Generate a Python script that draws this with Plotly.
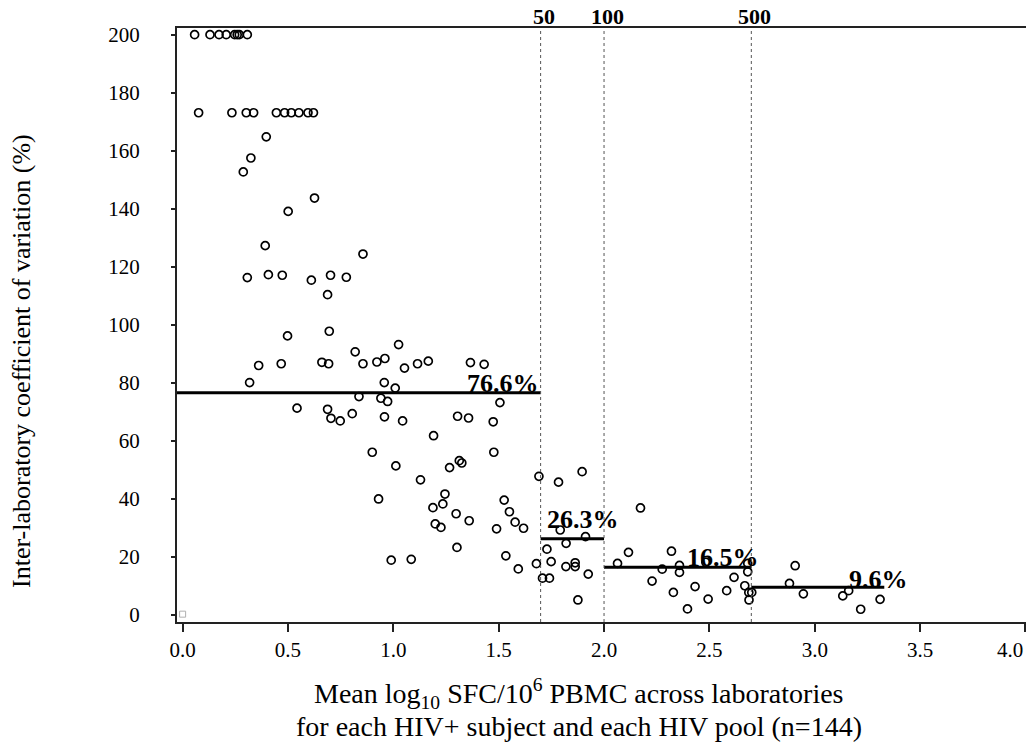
import math
import plotly.graph_objects as go

# ---- data ----
mean_log_sfc = [
    0.057, 0.130, 0.173, 0.207, 0.247, 0.259, 0.269, 0.307,
    0.076, 0.234, 0.302, 0.337, 0.445, 0.484, 0.516, 0.552, 0.595, 0.621,
    0.397, 0.324, 0.288, 0.626,
    0.501, 0.392, 0.856, 0.307, 0.407, 0.473, 0.611, 0.702, 0.777, 0.688,
    0.498, 0.696, 0.819, 0.361, 0.468, 0.661, 0.693, 0.856, 0.922, 0.960, 0.318,
    0.957, 0.837, 0.941, 0.973, 0.543, 0.688, 0.704, 0.748, 0.805, 0.958, 0.900, 0.930,
    1.025, 1.053, 1.115, 1.166, 1.366, 1.431, 1.009, 1.506, 1.044, 1.305, 1.357, 1.474,
    1.191, 1.477, 1.012, 1.267, 1.313, 1.325, 1.129, 1.691, 1.784, 1.896, 1.245, 1.188,
    1.235, 1.298, 1.199, 1.226, 1.360, 1.526, 1.551, 1.578, 1.618, 1.490, 1.302, 0.990,
    1.085, 1.534, 1.593, 1.679, 1.708, 1.741, 1.729, 1.749, 1.792, 1.820, 1.912, 1.819,
    1.863, 1.863, 1.925, 1.876, 2.064, 2.116,
    2.173, 2.320, 2.276, 2.358, 2.358, 2.228, 2.329, 2.396, 2.432, 2.494, 2.483, 2.582,
    2.617, 2.668, 2.682, 2.682, 2.687, 2.701, 2.688, 2.880, 2.907, 2.946, 3.133, 3.161,
    3.218, 3.310,
]
inter_lab_cv = [
    200, 200, 200, 200, 200, 200, 200, 200,
    173.1, 173.1, 173.1, 173.1, 173.1, 173.1, 173.1, 173.1, 173.1, 173.1,
    164.8, 157.5, 152.7, 143.7,
    139.1, 127.3, 124.4, 116.3, 117.3, 117.1, 115.4, 117.1, 116.4, 110.4,
    96.2, 97.8, 90.7, 86.0, 86.6, 87.1, 86.6, 86.6, 87.2, 88.4, 80.1,
    80.1, 75.3, 74.7, 73.6, 71.3, 70.9, 67.8, 66.9, 69.4, 68.3, 56.1, 40.0,
    93.2, 85.1, 86.6, 87.5, 87.0, 86.4, 78.2, 73.2, 66.9, 68.5, 67.9, 66.6,
    61.8, 56.1, 51.4, 50.8, 53.2, 52.4, 46.6, 47.8, 45.8, 49.4, 41.7, 37.0,
    38.3, 34.9, 31.4, 30.2, 32.5, 39.6, 35.6, 32.0, 29.9, 29.7, 23.3, 18.9,
    19.2, 20.4, 15.9, 17.7, 12.7, 12.7, 22.7, 18.4, 29.3, 24.7, 27.0, 16.7,
    18.0, 16.7, 14.1, 5.2, 17.8, 21.6,
    36.9, 22.0, 15.8, 17.1, 14.7, 11.7, 7.8, 2.1, 9.8, 5.5, 18.2, 8.4,
    13.0, 10.1, 17.8, 14.9, 7.8, 7.8, 5.2, 10.9, 17.0, 7.3, 6.6, 8.4,
    2.0, 5.4,
]
faint_point_x = [0.0]
faint_point_y = [0.3]

threshold_sfc = [50, 100, 500]
threshold_labels = ["50", "100", "500"]

segment_start = [None, math.log10(50), 2.0, math.log10(500)]
segment_end = [math.log10(50), 2.0, math.log10(500), 3.33]
segment_mean = [76.6, 26.3, 16.5, 9.6]
segment_labels = ["76.6%", "26.3%", "16.5%", "9.6%"]

x_ticks = [0.0, 0.5, 1.0, 1.5, 2.0, 2.5, 3.0, 3.5, 4.0]
x_tick_text = ["0.0", "0.5", "1.0", "1.5", "2.0", "2.5", "3.0", "3.5", "4.0"]
y_ticks = [0, 20, 40, 60, 80, 100, 120, 140, 160, 180, 200]

x_title_lines = ["Mean log<sub>10</sub> SFC/10<sup>6</sup> PBMC across laboratories",
                 "for each HIV+ subject and each HIV pool (n=144)"]
y_title = "Inter-laboratory coefficient of variation (%)"

X_RANGE = [-0.0266, 4.0025]
Y_RANGE = [-2.4, 202.3]

FONT = "Liberation Serif, Times New Roman, serif"

fig = go.Figure()

for s, e, m in zip(segment_start, segment_end, segment_mean):
    s0 = X_RANGE[0] if s is None else s
    fig.add_trace(go.Scatter(x=[s0, e], y=[m, m], mode="lines",
                             line=dict(color="black", width=3),
                             hoverinfo="skip", showlegend=False))

fig.add_trace(go.Scatter(
    x=mean_log_sfc, y=inter_lab_cv, mode="markers",
    marker=dict(symbol="circle-open", size=8, color="black",
                line=dict(color="black", width=1.7)),
    showlegend=False))

fig.add_trace(go.Scatter(
    x=faint_point_x, y=faint_point_y, mode="markers",
    marker=dict(symbol="square-open", size=6, color="#b0b0b0",
                line=dict(color="#b0b0b0", width=1)),
    showlegend=False, cliponaxis=False))

shapes = []
annotations = []
for t, lab in zip(threshold_sfc, threshold_labels):
    xv = math.log10(t)
    shapes.append(dict(type="line", xref="x", yref="paper", x0=xv, x1=xv,
                       y0=0, y1=1, line=dict(color="#555555", width=1, dash="dot")))
    annotations.append(dict(x=xv, y=1, xref="x", yref="paper", text=f"<b>{lab}</b>",
                            showarrow=False, xanchor="center", yanchor="bottom",
                            xshift=3, yshift=-3,
                            font=dict(family=FONT, size=22, color="black")))

label_pos = [
    dict(x=math.log10(50), xanchor="right", xshift=0, yshift=-7),
    dict(x=math.log10(50), xanchor="left", xshift=4, yshift=3),
    dict(x=math.log10(500), xanchor="right", xshift=10, yshift=-7),
    dict(x=3.452, xanchor="right", xshift=0, yshift=-9),
]
for lab, m, p in zip(segment_labels, segment_mean, label_pos):
    annotations.append(dict(x=p["x"], y=m, xref="x", yref="y", text=f"<b>{lab}</b>",
                            showarrow=False, xanchor=p["xanchor"], yanchor="bottom",
                            xshift=p["xshift"], yshift=p["yshift"],
                            font=dict(family=FONT, size=26, color="black")))

# last x tick label sits against the right edge, as in the reference
annotations.append(dict(
    x=1, y=(622 - 650) / 594, xref="paper", yref="paper", text=x_tick_text[-1],
    showarrow=False, xanchor="right", yanchor="middle", xshift=-1,
    font=dict(family=FONT, size=21, color="black")))

# x title, two lines centred at ~579px
for line, ypx in zip(x_title_lines, [694, 726]):
    annotations.append(dict(
        x=(579 - 177) / 849, y=(622 - ypx) / 594, xref="paper", yref="paper",
        text=line, showarrow=False, xanchor="center", yanchor="middle",
        font=dict(family=FONT, size=28, color="black")))
annotations.append(dict(
    x=(22 - 177) / 849, y=(622 - 361) / 594, xref="paper", yref="paper",
    text=y_title, textangle=-90,
    showarrow=False, xanchor="center", yanchor="middle",
    font=dict(family=FONT, size=26, color="black")))

fig.update_layout(
    width=1026, height=753,
    margin=dict(l=177, r=0, t=28, b=131),
    paper_bgcolor="white", plot_bgcolor="white",
    font=dict(family=FONT, color="black"),
    shapes=shapes, annotations=annotations,
    xaxis=dict(range=X_RANGE, tickvals=x_ticks,
               ticktext=x_tick_text[:-1] + [""],
               ticks="outside", ticklen=8, tickwidth=1.5, tickcolor="#222",
               showline=True, linewidth=2, linecolor="#222", mirror=True,
               showgrid=False, zeroline=False, automargin=False,
               tickfont=dict(family=FONT, size=21, color="black"),
               ticklabelstandoff=0),
    yaxis=dict(range=Y_RANGE, tickvals=y_ticks,
               ticks="outside", ticklen=4, tickwidth=1.5, tickcolor="#222",
               showline=True, linewidth=2, linecolor="#222",
               showgrid=False, zeroline=False, automargin=False,
               tickfont=dict(family=FONT, size=21, color="black"),
               ticklabelstandoff=27),
)

fig.write_html("out.html", config={"displayModeBar": False},
               post_script="document.body.style.margin='0';")
